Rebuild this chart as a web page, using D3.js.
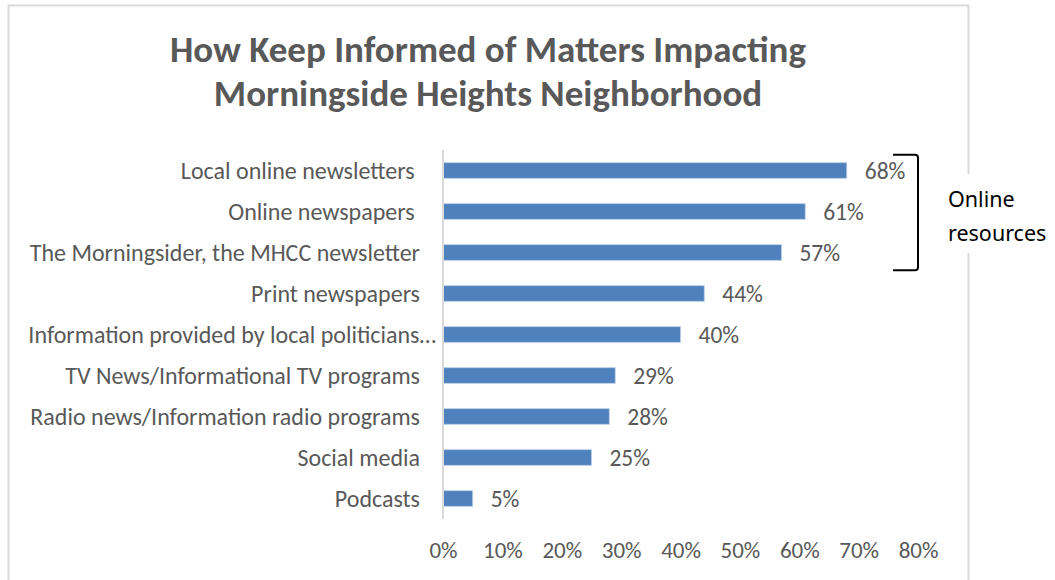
<!DOCTYPE html>
<html>
<head>
<meta charset="utf-8">
<script src="https://cdn.jsdelivr.net/npm/d3@7"></script>
<style>
  body { margin: 0; background: #fff; }
  svg { display: block; }
</style>
</head>
<body>
<svg></svg>
<script>
const width = 1055;
const height = 580;

const categories = [
    "Local online newsletters ",
    "Online newspapers ",
    "The Morningsider, the MHCC newsletter",
    "Print newspapers",
    "Information provided by local politicians...",
    "TV News/Informational TV programs",
    "Radio news/Information radio programs",
    "Social media",
    "Podcasts"
];
const values = [68, 61, 57, 44, 40, 29, 28, 25, 5];
const ticks = [0, 10, 20, 30, 40, 50, 60, 70, 80];
const titleLines = ["How Keep Informed of Matters Impacting", "Morningside Heights Neighborhood"];
const groupLabel = ["Online", "resources"];
const groupedCount = 3;

const font = "Carlito, Calibri, 'Open Sans', sans-serif";
const textGray = "#595959";

const svg = d3.select("svg")
    .attr("width", width)
    .attr("height", height);

// chart frame
svg.append("rect")
    .attr("x", 8.5)
    .attr("y", 5.5)
    .attr("width", 960)
    .attr("height", 600)
    .attr("fill", "#fff")
    .attr("stroke", "#d9d9d9")
    .attr("stroke-width", 2);

svg.append("g")
    .selectAll("text")
    .data(titleLines)
    .enter()
    .append("text")
    .attr("x", 488)
    .attr("y", (d, i) => 62 + i * 44)
    .attr("text-anchor", "middle")
    .attr("font-family", font)
    .attr("font-weight", "bold")
    .attr("font-size", 37)
    .attr("fill", textGray)
    .text(d => d);

const xScale = d3.scaleLinear()
    .domain([0, 80])
    .range([443, 918]);

const yScale = d3.scaleBand()
    .domain(categories)
    .range([150, 519])
    .paddingInner(0.62)
    .paddingOuter(0.31);

// bars
svg.selectAll(".bar")
    .data(values)
    .enter()
    .append("rect")
    .attr("class", "bar")
    .attr("x", xScale(0))
    .attr("y", (d, i) => yScale(categories[i]))
    .attr("width", d => xScale(d) - xScale(0))
    .attr("height", yScale.bandwidth())
    .attr("fill", "#4f81bd")
    .attr("stroke", "#b9cde5")
    .attr("stroke-width", 0.8);

// vertical axis line
svg.append("line")
    .attr("x1", xScale(0))
    .attr("x2", xScale(0))
    .attr("y1", 150)
    .attr("y2", 519)
    .attr("stroke", "#d9d9d9")
    .attr("stroke-width", 2);

// category labels
svg.selectAll(".cat")
    .data(categories)
    .enter()
    .append("text")
    .attr("class", "cat")
    .attr("x", d => d.endsWith("...") ? xScale(0) - 7 : xScale(0) - 23)
    .attr("y", d => yScale(d) + yScale.bandwidth() / 2)
    .attr("dy", "0.35em")
    .attr("text-anchor", "end")
    .attr("font-family", font)
    .attr("font-size", 24)
    .attr("fill", textGray)
    .style("white-space", "pre")
    .text(d => d.endsWith("...") ? d.replace("...", "\u2026") : d);

// value labels
svg.selectAll(".val")
    .data(values)
    .enter()
    .append("text")
    .attr("class", "val")
    .attr("x", d => xScale(d) + 18)
    .attr("y", (d, i) => yScale(categories[i]) + yScale.bandwidth() / 2)
    .attr("dy", "0.35em")
    .attr("font-family", font)
    .attr("font-size", 23.5)
    .attr("fill", textGray)
    .text(d => d + "%");

// x tick labels
const xAxis = d3.axisBottom(xScale)
    .tickValues(ticks)
    .tickSize(0)
    .tickPadding(0)
    .tickFormat(d => d + "%");

const xg = svg.append("g")
    .attr("transform", "translate(0, 550)")
    .call(xAxis);
xg.select(".domain").remove();
xg.selectAll("text")
    .attr("dy", "0.35em")
    .attr("font-family", font)
    .attr("font-size", 23)
    .attr("fill", textGray);

// bracket for online resources
const bTop = yScale(categories[0]) - 8;
const bBottom = yScale(categories[groupedCount - 1]) + yScale.bandwidth() + 10;
const bx = 918;
svg.append("path")
    .attr("d", `M${bx - 25},${bTop} L${bx - 3},${bTop} Q${bx},${bTop} ${bx},${bTop + 3} L${bx},${bBottom - 3} Q${bx},${bBottom} ${bx - 3},${bBottom} L${bx - 25},${bBottom}`)
    .attr("fill", "none")
    .attr("stroke", "#000")
    .attr("stroke-width", 2);

// label box covers the frame line
svg.append("rect")
    .attr("x", 940)
    .attr("y", 174)
    .attr("width", 115)
    .attr("height", 79)
    .attr("fill", "#fff");

svg.append("g")
    .selectAll("text")
    .data(groupLabel)
    .enter()
    .append("text")
    .attr("x", 948)
    .attr("y", (d, i) => 207 + i * 34)
    .attr("font-family", "'Noto Sans', sans-serif")
    .attr("font-size", 21.5)
    .attr("fill", "#000")
    .text(d => d);
</script>
</body>
</html>
